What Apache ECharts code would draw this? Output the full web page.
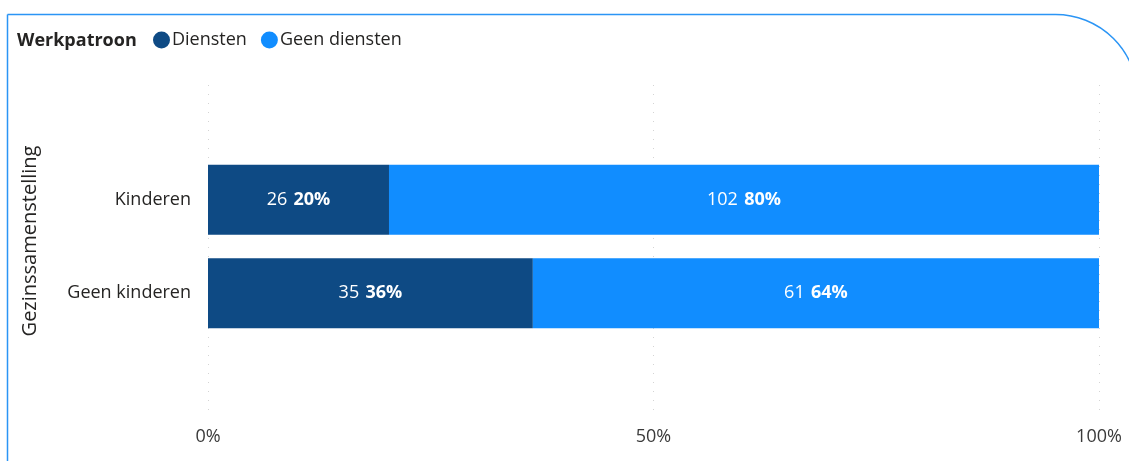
<!DOCTYPE html>
<html>
<head>
<meta charset="utf-8">
<script src="https://cdn.jsdelivr.net/npm/echarts@6/dist/echarts.min.js"></script>
<style>
html,body{margin:0;padding:0;background:#fff;}
#c{width:1129px;height:461px;}
</style>
</head>
<body>
<div id="c"></div>
<script>
const categories = ['Kinderen', 'Geen kinderen'];
const seriesNames = ['Diensten', 'Geen diensten'];
const dienstenCounts = [26, 35];
const geenDienstenCounts = [102, 61];
const xTicks = [0, 50, 100];
const colors = ['#0E4A84', '#118DFF'];

const totals = categories.map((_, i) => dienstenCounts[i] + geenDienstenCounts[i]);
function makeData(counts) {
  return counts.map((c, i) => ({ value: c / totals[i] * 100, count: c }));
}
const FONT = '"Segoe UI", "Open Sans", "Noto Sans", sans-serif';

const labelCfg = {
  show: true,
  position: 'inside',
  formatter: p => '{n|' + p.data.count + '}  {b|' + Math.round(p.data.value) + '%}',
  rich: {
    n: { color: '#fff', fontSize: 18, fontFamily: FONT },
    b: { color: '#fff', fontSize: 18, fontWeight: 'bold', fontFamily: FONT }
  }
};

const chart = echarts.init(document.getElementById('c'));
chart.setOption({
  animation: false,
  textStyle: { fontFamily: FONT },
  graphic: [
    {
      type: 'rect', silent: true, z: 0,
      shape: { x: 7.5, y: 14.5, width: 1130, height: 520, r: [0, 82, 0, 0] },
      style: { fill: 'none', stroke: '#2B95F5', lineWidth: 1.5 }
    },
    {
      type: 'text', x: 17, y: 41,
      style: { text: 'Werkpatroon', fontSize: 18, fontWeight: 'bold', fill: '#252423', fontFamily: FONT, verticalAlign: 'middle' }
    },
    {
      type: 'text', x: 30, y: 241, rotation: Math.PI / 2,
      style: { text: 'Gezinssamenstelling', fontSize: 20, fill: '#252423', fontFamily: FONT, align: 'center', verticalAlign: 'middle' }
    }
  ],
  legend: {
    left: 153, top: 31, padding: 0,
    icon: 'circle', itemWidth: 17, itemHeight: 17, itemGap: 14,
    data: seriesNames,
    textStyle: { fontSize: 18, color: '#252423', fontFamily: FONT, padding: [0, 0, 0, -3] }
  },
  grid: [
    { left: 208, right: 30, top: 85, bottom: 51 },
    { left: 208, right: 30, top: 153, bottom: 121 }
  ],
  xAxis: [
    {
      gridIndex: 0, type: 'value', min: 0, max: 100, interval: 50,
      axisLine: { show: false }, axisTick: { show: false },
      axisLabel: { formatter: v => xTicks.includes(v) ? v + '%' : '', fontSize: 18, color: '#3a3a3a', margin: 18, fontFamily: FONT },
      splitLine: { show: true, lineStyle: { color: '#d4d4d4', type: [1, 8], width: 1 } }
    },
    {
      gridIndex: 1, type: 'value', min: 0, max: 100, show: false
    }
  ],
  yAxis: [
    {
      gridIndex: 0, type: 'category', data: [''], show: false
    },
    {
      gridIndex: 1, type: 'category', data: categories, inverse: true,
      axisLine: { show: false }, axisTick: { show: false },
      axisLabel: { fontSize: 18, color: '#252423', margin: 17, fontFamily: FONT, padding: [4, 0, 0, 0] }
    }
  ],
  series: [
    {
      name: seriesNames[0], type: 'bar', stack: 'a', xAxisIndex: 1, yAxisIndex: 1,
      barWidth: 70, itemStyle: { color: colors[0] },
      data: makeData(dienstenCounts), label: labelCfg
    },
    {
      name: seriesNames[1], type: 'bar', stack: 'a', xAxisIndex: 1, yAxisIndex: 1,
      barWidth: 70, itemStyle: { color: colors[1] },
      data: makeData(geenDienstenCounts), label: labelCfg
    }
  ]
});
</script>
</body>
</html>
